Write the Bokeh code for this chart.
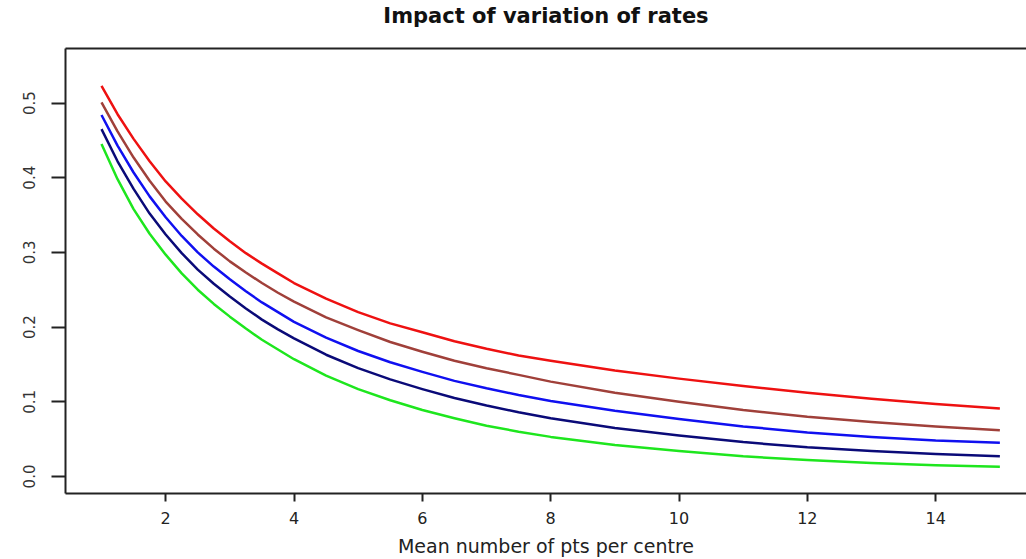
from bokeh.plotting import figure
from bokeh.embed import file_html
from bokeh.resources import INLINE
from bokeh.models import LinearAxis, FixedTicker, PrintfTickFormatter

# ---- data ----
x_vals = [1, 1.25, 1.5, 1.75, 2, 2.25, 2.5, 2.75, 3, 3.25, 3.5, 3.75, 4, 4.5, 5, 5.5, 6,
          6.5, 7, 7.5, 8, 9, 10, 11, 12, 13, 14, 15]
red = [0.523, 0.485, 0.452, 0.422, 0.395, 0.372, 0.351, 0.332, 0.315, 0.299, 0.285, 0.272,
       0.259, 0.238, 0.220, 0.205, 0.193, 0.181, 0.171, 0.162, 0.155, 0.142, 0.131, 0.121,
       0.112, 0.104, 0.097, 0.091]
brown = [0.501, 0.462, 0.427, 0.396, 0.368, 0.345, 0.324, 0.305, 0.288, 0.273, 0.259, 0.246,
         0.234, 0.213, 0.196, 0.180, 0.167, 0.155, 0.145, 0.136, 0.127, 0.112, 0.100, 0.089,
         0.080, 0.073, 0.067, 0.062]
blue = [0.484, 0.443, 0.407, 0.375, 0.347, 0.322, 0.300, 0.281, 0.264, 0.248, 0.233, 0.220,
        0.207, 0.186, 0.168, 0.153, 0.140, 0.128, 0.118, 0.109, 0.101, 0.088, 0.077, 0.067,
        0.059, 0.053, 0.048, 0.045]
navy = [0.465, 0.422, 0.385, 0.352, 0.324, 0.299, 0.277, 0.258, 0.241, 0.225, 0.210, 0.197,
        0.185, 0.163, 0.145, 0.130, 0.117, 0.105, 0.095, 0.086, 0.078, 0.065, 0.055, 0.046,
        0.039, 0.034, 0.030, 0.027]
green = [0.445, 0.398, 0.358, 0.325, 0.297, 0.272, 0.250, 0.231, 0.214, 0.198, 0.183, 0.170,
         0.157, 0.135, 0.117, 0.102, 0.089, 0.078, 0.068, 0.060, 0.053, 0.042, 0.034, 0.027,
         0.022, 0.018, 0.015, 0.013]

series = [("red", red, "#ee1111"), ("brown", brown, "#a0403a"), ("blue", blue, "#1010f0"),
          ("navy", navy, "#0a0a78"), ("green", green, "#1ee61e")]

x_ticks = [2, 4, 6, 8, 10, 12, 14]
y_ticks = [0.0, 0.1, 0.2, 0.3, 0.4, 0.5]

title_text = "Impact of variation of rates"
x_label = "Mean number of pts per centre"

p = figure(width=1026, height=559, x_range=(0.439, 15.415), y_range=(-0.0228, 0.573),
           output_backend="svg", toolbar_location=None,
           min_border_left=65, min_border_right=0, min_border_top=48, min_border_bottom=66,
           x_axis_label=x_label)
p.title = None

p.outline_line_color = None
p.grid.visible = False
p.background_fill_color = "white"
p.border_fill_color = "white"

for name, ys, col in series:
    p.line(x_vals, ys, line_color=col, line_width=2.5, line_join="round")

ax = p.xaxis[0]
ax.ticker = FixedTicker(ticks=x_ticks)
ax.major_tick_out = 8
ax.major_tick_in = 0
ax.minor_tick_out = 0
ax.minor_tick_in = 0
ax.axis_line_width = 2
ax.axis_line_color = "#222222"
ax.major_tick_line_width = 2
ax.major_tick_line_color = "#222222"
ax.major_label_standoff = 10
ax.major_label_text_font = "DejaVu Sans"
ax.major_label_text_font_size = "16px"
ax.major_label_text_color = "#222222"
ax.axis_label_text_font = "DejaVu Sans"
ax.axis_label_text_font_size = "19px"
ax.axis_label_text_font_style = "normal"
ax.axis_label_text_color = "#222222"
ax.axis_label_standoff = 8

ay = p.yaxis[0]
ay.ticker = FixedTicker(ticks=y_ticks)
ay.formatter = PrintfTickFormatter(format="%.1f")
ay.major_tick_out = 14
ay.major_tick_in = 0
ay.minor_tick_out = 0
ay.minor_tick_in = 0
ay.axis_line_width = 2
ay.axis_line_color = "#222222"
ay.major_tick_line_width = 2
ay.major_tick_line_color = "#222222"
ay.major_label_orientation = "vertical"
ay.major_label_standoff = 16
ay.major_label_text_font = "DejaVu Sans"
ay.major_label_text_font_size = "15px"
ay.major_label_text_color = "#333333"

# top border of the box, carrying the chart title
top = LinearAxis(ticker=FixedTicker(ticks=[]), axis_line_width=2, axis_line_color="#222222",
                 major_tick_out=0, major_tick_in=0, minor_tick_out=0, minor_tick_in=0,
                 major_label_text_font_size="0px",
                 axis_label=title_text, axis_label_standoff=21,
                 axis_label_text_font="DejaVu Sans", axis_label_text_font_size="21px",
                 axis_label_text_font_style="bold", axis_label_text_color="#111111")
p.add_layout(top, "above")

open("out.html", "w").write(file_html(p, INLINE))
